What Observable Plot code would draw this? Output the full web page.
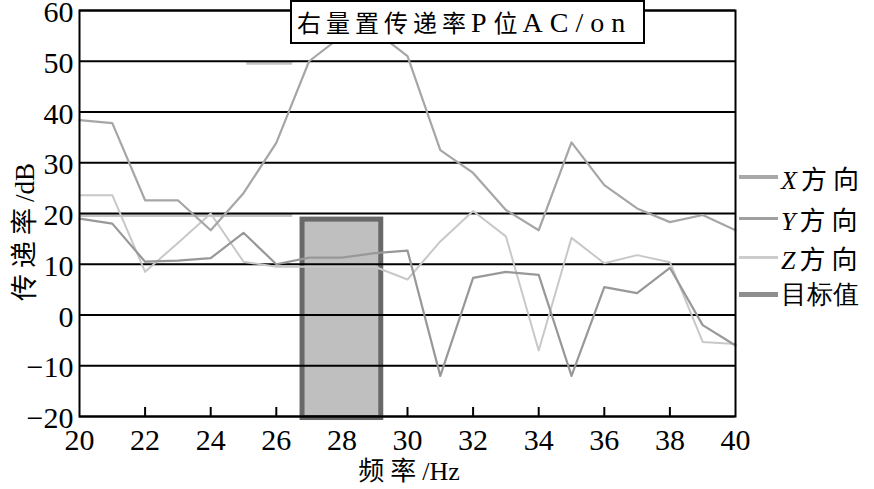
<!DOCTYPE html>
<html><head><meta charset="utf-8">
<script src="https://cdn.jsdelivr.net/npm/d3@7"></script>
<script src="https://cdn.jsdelivr.net/npm/@observablehq/plot@0.6"></script>
<style>
body{margin:0;background:#fff;}
#wrap{position:relative;width:874px;height:489px;font-family:"Liberation Serif","Times New Roman",serif;color:#000;}
.abs{position:absolute;white-space:nowrap;}
.cjk{font-family:"Noto Sans CJK SC",sans-serif;letter-spacing:6px;}
.title{left:290px;top:0px;width:346px;height:40px;border:2px solid #000;background:#fff;font-size:28px;line-height:40px;padding-left:5px;box-sizing:content-box;letter-spacing:7px;}
.title .cjk{font-size:24px;letter-spacing:5px;}
.leg{left:739px;font-size:26px;display:flex;align-items:center;}
.sw{width:39px;margin-right:3px;}
</style></head><body><div id="wrap"></div>
<script>
// Data
const freq = [20,21,22,23,24,25,26,27,28,29,30,31,32,33,34,35,36,37,38,39,40];
const xDir = [38.4,37.8,22.6,22.6,16.7,24,33.9,50,55,56,51,32.5,28,20.7,16.7,34,25.6,21,18.3,19.7,16.7];
const yDir = [19,18,10.5,10.7,11.2,16.2,10,11.3,11.3,12.2,12.7,-12,7.3,8.5,7.9,-12,5.5,4.3,9.3,-2,-6];
const zDir = [23.6,23.6,8.5,14.2,20,10.5,9.5,9.5,9.5,9.5,7,14.5,20.5,15.5,-7,15.2,10.2,11.8,10.4,-5.3,-5.7];
const targetFreq = [26.8, 29.2];
const targetRange = [-20.3, 18.8];
const faintFreq = [[20, 26.5], [25.1, 26.5]];
const faintLevel = [19.6, 49.6];
const xTicks = [20,22,24,26,28,30,32,34,36,38,40];
const xInnerTicks = [22,24,26,30,32,34,36,38];
const yTicks = [60,50,40,30,20,10,0,-10,-20];
const seriesNames = ["X方向","Y方向","Z方向","目标值"];

const mk = (vals) => freq.map((f,i) => ({f, v: vals[i]}));
const faint = faintFreq.map((r,i) => ({x1: r[0], x2: r[1], y: faintLevel[i]}));
const target = [{x1: targetFreq[0], x2: targetFreq[1], y1: targetRange[0], y2: targetRange[1]}];
const serif = "Liberation Serif";

const chart = Plot.plot({
  width: 874, height: 489,
  marginLeft: 79, marginRight: 139, marginTop: 10, marginBottom: 73,
  x: {domain: [20, 40]},
  y: {domain: [-20, 60]},
  style: {background: "#fff", color: "#000"},
  marks: [
    Plot.rect(target, {x1: "x1", x2: "x2", y1: "y1", y2: "y2", fill: "#bfbfbf", stroke: "#686868", strokeWidth: 5}),
    Plot.ruleY(faint, {x1: "x1", x2: "x2", y: "y", stroke: "#c4c4c4", strokeWidth: 3}),
    Plot.gridY(yTicks, {stroke: "#000", strokeOpacity: 1, strokeWidth: 2}),
    Plot.ruleX(xInnerTicks, {x: d => d, stroke: "#000", strokeWidth: 2, insetTop: 397}),
    Plot.line(mk(zDir), {x: "f", y: "v", stroke: "#c8c8c8", strokeWidth: 2}),
    Plot.line(mk(xDir), {x: "f", y: "v", stroke: "#a6a6a6", strokeWidth: 2.2}),
    Plot.line(mk(yDir), {x: "f", y: "v", stroke: "#989898", strokeWidth: 2.2}),
    Plot.frame({stroke: "#000", strokeWidth: 2}),
    Plot.axisY(yTicks, {tickSize: 0, tickPadding: 6, fontSize: 30, label: null, dy: 2, fontFamily: serif,
      tickFormat: d => d < 0 ? "\u2212" + Math.abs(d) : String(d)}),
    Plot.axisX(xTicks, {tickSize: 0, tickPadding: 12, fontSize: 30, label: null, fontFamily: serif, tickFormat: d => String(d)})
  ]
});
const wrap = document.getElementById("wrap");
wrap.appendChild(chart);

function addDiv(cls, html, css) {
  const d = document.createElement("div");
  d.className = "abs " + cls;
  d.innerHTML = html;
  Object.assign(d.style, css || {});
  wrap.appendChild(d);
  return d;
}
// wrap CJK runs so they get their own font and spacing
const cjk = s => s.replace(/([\u4e00-\u9fff]+)/g, '<span class="cjk">$1</span>');
addDiv("title", cjk("右量置传递率") + "P" + cjk("位") + "AC/on");
addDiv("", cjk("频率") + "/Hz", {left: "409px", top: "470px", fontSize: "26px", lineHeight: "30px", transform: "translate(-50%,-50%)"});
addDiv("", cjk("传递率") + "/dB", {left: "22px", top: "232px", fontSize: "27px", transform: "translate(-50%,-50%) rotate(-90deg)"});

const legStyles = [
  {c: "#a8a8a8", h: 4}, {c: "#a0a0a0", h: 3}, {c: "#cccccc", h: 3}, {c: "#8e8e8e", h: 5}
];
const legY = [177, 218, 257, 294];
seriesNames.forEach((name, i) => {
  const label = name.replace(/^([XYZ])(.*)$/, (m, a, b) => '<i style="margin-right:4px">' + a + '</i>' + cjk(b));
  addDiv("leg", `<span class="sw" style="height:${legStyles[i].h}px;background:${legStyles[i].c}"></span><span>${label}</span>`,
    {top: (legY[i] - 16) + "px", height: "32px"});
});
</script></body></html>
